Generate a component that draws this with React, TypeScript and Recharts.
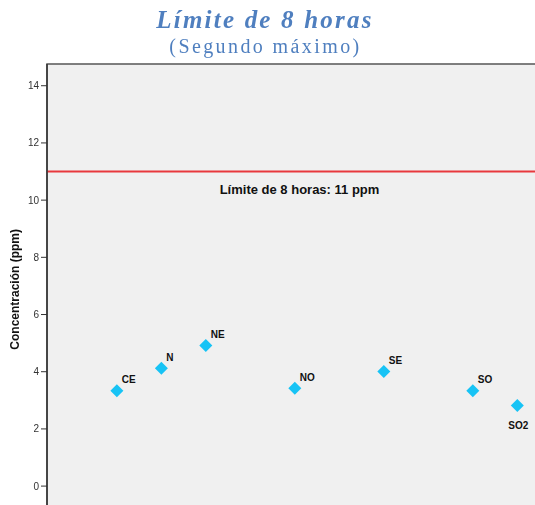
import React from "react";
import {
  ScatterChart,
  Scatter,
  XAxis,
  YAxis,
  CartesianGrid,
  ReferenceLine,
  ReferenceArea,
} from "recharts";

// ---- data ----
const stations = ["CE", "N", "NE", "NO", "SE", "SO", "SO2"];
const stationPos = [0, 1, 2, 4, 6, 8, 9];
const secondMax = [3.33, 4.12, 4.92, 3.42, 4.01, 3.33, 2.82];
const limit8h = 11;
const yTicks = [0, 2, 4, 6, 8, 10, 12, 14];
const titleText = "Límite de 8 horas";
const subtitleText = "(Segundo máximo)";
const yLabelText = "Concentración (ppm)";
const limitLabel = "Límite de 8 horas: 11 ppm";

const data = stations.map((name, i) => ({
  name,
  x: stationPos[i],
  y: secondMax[i],
}));

const X_DOMAIN: [number, number] = [-1.57, 9.78];
const Y_DOMAIN: [number, number] = [-1, 14.76];

const Diamond = (props: any) => {
  const { cx, cy, payload } = props;
  if (cx == null || cy == null) return null;
  const r = 6.5;
  const below = payload && payload.name === "SO2";
  return (
    <g>
      <polygon
        points={`${cx},${cy - r} ${cx + r},${cy} ${cx},${cy + r} ${cx - r},${cy}`}
        fill="#17c3f5"
      />
      <text
        x={below ? cx + 1 : cx + 5}
        y={below ? cy + 24 : cy - 7.5}
        textAnchor={below ? "middle" : "start"}
        fontFamily="Arial, 'Liberation Sans', sans-serif"
        fontWeight="bold"
        fontSize={10}
        fill="#111"
      >
        {payload.name}
      </text>
    </g>
  );
};

export default function App() {
  return (
    <div
      style={{
        position: "fixed",
        left: 0,
        top: 0,
        width: 535,
        height: 505,
        overflow: "hidden",
      }}
    >
      <svg
        width={535}
        height={64}
        style={{ position: "absolute", left: 0, top: 0 }}
      >
        <text
          x={265}
          y={28.3}
          textAnchor="middle"
          fontFamily="'Liberation Serif', 'Times New Roman', serif"
          fontStyle="italic"
          fontWeight="bold"
          fontSize={25}
          letterSpacing={2.2}
          fill="#4f7fbf"
        >
          {titleText}
        </text>
        <text
          x={265.5}
          y={52.5}
          textAnchor="middle"
          fontFamily="'Liberation Serif', 'Times New Roman', serif"
          fontSize={20}
          letterSpacing={2.4}
          fill="#4f7fbf"
        >
          {subtitleText}
        </text>
      </svg>
      <div style={{ position: "absolute", left: 8, top: 8 }}>
        <ScatterChart
          width={560}
          height={530}
          margin={{ top: 56, right: 16, bottom: 23.3, left: 0 }}
        >
          <CartesianGrid
            horizontal={false}
            vertical={false}
            fill="#f0f0f0"
            fillOpacity={1}
          />
          <XAxis
            type="number"
            dataKey="x"
            domain={X_DOMAIN}
            allowDataOverflow
            hide
          />
          <YAxis
            type="number"
            dataKey="y"
            domain={Y_DOMAIN}
            ticks={yTicks}
            allowDataOverflow
            width={39}
            tickSize={6}
            tickMargin={2}
            axisLine={{ stroke: "#333", strokeWidth: 1.5 }}
            tickLine={{ stroke: "#333" }}
            tick={{
              fontSize: 10,
              fill: "#333",
              fontFamily: "Arial, 'Liberation Sans', sans-serif",
            }}
            label={{
              content: (p: any) => {
                const vb = p.viewBox || {};
                const cy = (vb.y ?? 56) + (vb.height ?? 450) / 2;
                const x = 11.5;
                return (
                  <text
                    x={x}
                    y={cy}
                    transform={`rotate(-90, ${x}, ${cy})`}
                    textAnchor="middle"
                    fontFamily="Arial, 'Liberation Sans', sans-serif"
                    fontWeight="bold"
                    fontSize={12}
                    fill="#111"
                  >
                    {yLabelText}
                  </text>
                );
              },
            }}
          />
          <ReferenceArea
            x1={X_DOMAIN[0]}
            x2={X_DOMAIN[1]}
            y1={Y_DOMAIN[0]}
            y2={Y_DOMAIN[1]}
            fill="none"
            stroke="#555"
            strokeWidth={1.5}
          />
          <ReferenceLine
            y={limit8h}
            stroke="#e8383d"
            strokeWidth={2}
            label={{
              content: (p: any) => {
                const vb = p.viewBox || {};
                const x = (vb.x ?? 39) + (vb.width ?? 505) / 2;
                const y = (vb.y ?? 164) + 22;
                return (
                  <text
                    x={x}
                    y={y}
                    textAnchor="middle"
                    fontFamily="Arial, 'Liberation Sans', sans-serif"
                    fontWeight="bold"
                    fontSize={13}
                    fill="#111"
                  >
                    {limitLabel}
                  </text>
                );
              },
            }}
          />
          <Scatter
            data={data}
            dataKey="y"
            shape={Diamond}
            isAnimationActive={false}
          />
        </ScatterChart>
      </div>
    </div>
  );
}
